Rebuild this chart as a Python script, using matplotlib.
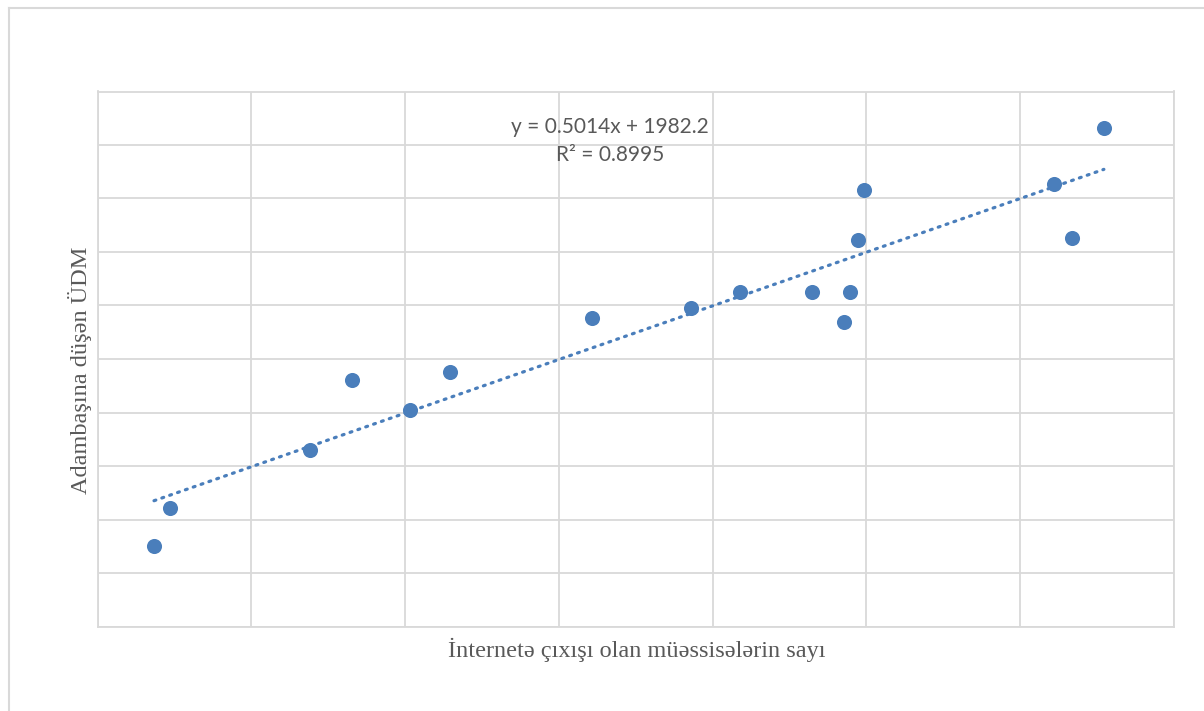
"""
İnternetə çıxışı olan müəssisələr və adambaşına ÜDM: səpələnmə qrafiki
"""

import numpy as np
import matplotlib
matplotlib.use("Agg")
import matplotlib.pyplot as plt
from matplotlib.lines import Line2D

# verilənlər (şəkildən oxunub)
internet_firms = [735, 943, 2763, 3306, 4064, 4584, 6430, 7718, 8355,
                  9291, 9707, 9785, 9889, 9967, 12438, 12672, 13088]
gdp_per_capita = [1505, 2209, 3293, 4602, 4041, 4751, 5766, 5953, 6252,
                  6247, 5686, 6247, 7219, 8153, 8265, 7256, 9312]

trend_slope = 0.5014
trend_intercept = 1982.2
r_squared = 0.8995

x_label = "İnternetə çıxışı olan müəssisələrin sayı"
y_label = "Adambaşına düşən ÜDM"

blue = "#4a7ebb"
grid_gray = "#d9d9d9"
text_gray = "#595959"

W, H = 1204, 711
fig = plt.figure(figsize=(W / 100, H / 100), dpi=100)
ax = fig.add_axes([97.5 / W, 1 - 626.5 / H, (1174 - 97.5) / W, (626.5 - 91.5) / H])

# trend xətti (nöqtəli)
xt = np.array([min(internet_firms), max(internet_firms)])
ax.plot(xt, trend_slope * xt + trend_intercept, color=blue, linewidth=2.3,
        linestyle=(0, (0.6, 2.0)), dash_capstyle="round", zorder=2)

ax.scatter(internet_firms, gdp_per_capita, s=118, color=blue, zorder=3,
           linewidths=0)

ax.set_xlim(0, 14000)
ax.set_ylim(0, 10000)
ax.set_xticks(np.arange(0, 14001, 2000))
ax.set_yticks(np.arange(0, 10001, 1000))
ax.tick_params(length=0, labelbottom=False, labelleft=False)
ax.grid(True, color=grid_gray, linewidth=1.3)
ax.set_axisbelow(True)
for spine in ax.spines.values():
    spine.set_color(grid_gray)
    spine.set_linewidth(1.3)

ax.text(0.476, 0.9075, f"y = {trend_slope}x + {trend_intercept}\nR² = {r_squared}",
        transform=ax.transAxes, ha="center", va="center", fontsize=15,
        color=text_gray, family=["Lato", "DejaVu Sans"], linespacing=1.5)

fig.text(637 / W, 1 - 650 / H, x_label, ha="center", va="center",
         fontsize=17.5, color=text_gray, family=["Liberation Serif"])
fig.text(80 / W, 1 - 370 / H, y_label, ha="center", va="center", rotation=90,
         fontsize=17.5, color=text_gray, family=["Liberation Serif"])

# xarici çərçivə
fig.add_artist(Line2D([9 / W, 9 / W], [0, 1 - 8 / H], transform=fig.transFigure,
                      color=grid_gray, linewidth=1.5))
fig.add_artist(Line2D([9 / W, 1], [1 - 8 / H, 1 - 8 / H], transform=fig.transFigure,
                      color=grid_gray, linewidth=1.5))

fig.savefig("out.png", dpi=100)
